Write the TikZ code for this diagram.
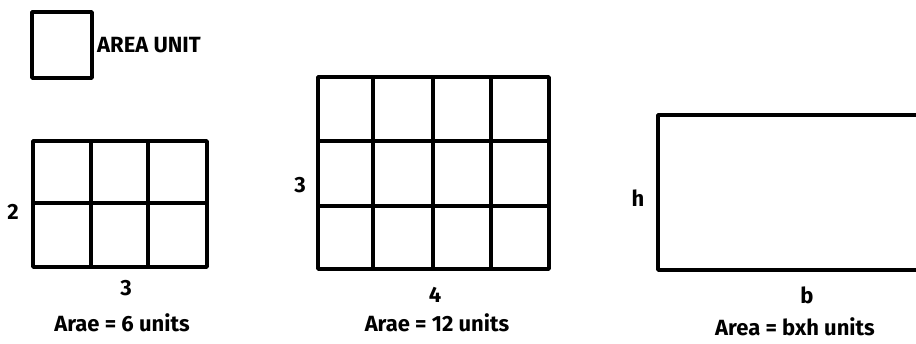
\documentclass[tikz,border=0pt]{standalone}
\usepackage{fontspec}
\setmainfont{Fira Sans}
\usepackage{tikz}
\usetikzlibrary{positioning}
\tikzset{
  % grid and box lines
  edge/.style={line width=3.4pt, line cap=round, line join=round, color=black},
  % labels
  lbl/.style={font=\fontsize{22pt}{26pt}\selectfont\bfseries, inner sep=0pt, text=black},
}
\begin{document}
\begin{tikzpicture}[x=1pt, y=-1pt]
  \useasboundingbox (0,0) rectangle (916,343);
  % area unit
  \draw[edge] (32,12) rectangle (92,78);
  \node[lbl, anchor=west] (unit) at (97,45) {AREA UNIT};
  % 3 x 2 grid
  \draw[edge] (33,141) rectangle (207,267);
  \draw[edge] (33,203) -- (207,203);
  \foreach \x in {91,148} \draw[edge] (\x,141) -- (\x,267);
  \node[lbl] (twoa) at (13,212) {2};
  \node[lbl] (threea) at (126,288) {3};
  \node[lbl] (areaa) at (122,323) {Arae = 6 units};
  % 4 x 3 grid
  \draw[edge] (318,77) rectangle (549,269);
  \foreach \y in {141,206} \draw[edge] (318,\y) -- (549,\y);
  \foreach \x in {373,433,491} \draw[edge] (\x,77) -- (\x,269);
  \node[lbl] (threeb) at (300,185) {3};
  \node[lbl] (fourb) at (435,295) {4};
  \node[lbl] (areab) at (437,323) {Arae = 12 units};
  % general rectangle
  \draw[edge] (920,115) -- (658,115) -- (658,270) -- (920,270);
  \node[lbl] (hc) at (638,198) {h};
  \node[lbl] (bc) at (807,295) {b};
  \node[lbl] (areac) at (795,327) {Area = bxh units};
\end{tikzpicture}
\end{document}
